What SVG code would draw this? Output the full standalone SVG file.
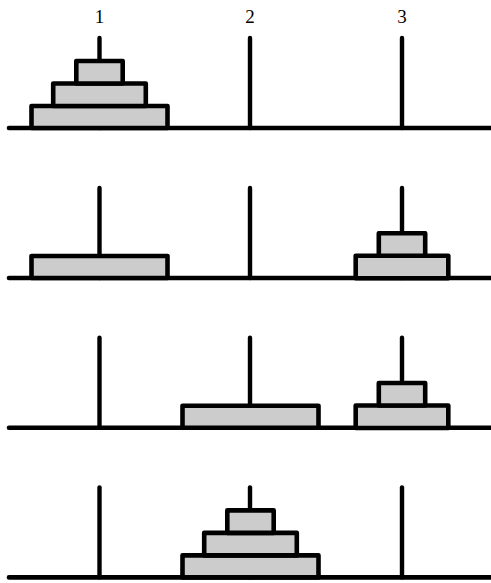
<svg xmlns="http://www.w3.org/2000/svg" width="491" height="583" viewBox="0 0 491 583">
<defs>
<style>
.base{stroke:#000;stroke-width:4.6;stroke-linecap:round;fill:none}
.peg{stroke:#000;stroke-width:4.4;stroke-linecap:round;fill:none}
.disk{fill:#cccccc;stroke:#000;stroke-width:4.6;stroke-linejoin:round}
.lbl{font-family:"Liberation Serif","Times New Roman",serif;font-size:19px;fill:#000;text-anchor:middle}
</style>
<rect id="big" class="disk" x="-68" y="-22" width="136" height="22"/>
<rect id="mid" class="disk" x="-46.3" y="-44.5" width="92.6" height="22.5"/>
<rect id="small" class="disk" x="-23.2" y="-67" width="46.4" height="22.5"/>
<g id="pegs">
<line class="peg" x1="99.5" y1="-90" x2="99.5" y2="0"/>
<line class="peg" x1="250" y1="-90" x2="250" y2="0"/>
<line class="peg" x1="402" y1="-90" x2="402" y2="0"/>
<line class="base" x1="9" y1="0" x2="500" y2="0"/>
</g>
</defs>
<rect width="491" height="583" fill="#fff"/>
<g id="labels">
<text class="lbl" x="99.5" y="22.5">1</text>
<text class="lbl" x="250" y="22.5">2</text>
<text class="lbl" x="402" y="22.5">3</text>
</g>
<g id="state1" transform="translate(0,128)">
<use href="#pegs"/>
<g transform="translate(99.5,0)"><use href="#big"/><use href="#mid"/><use href="#small"/></g>
</g>
<g id="state2" transform="translate(0,278)">
<use href="#pegs"/>
<g transform="translate(99.5,0)"><use href="#big"/></g>
<g transform="translate(402,0)"><use href="#mid" transform="translate(0,22.3)"/><use href="#small" transform="translate(0,22.3)"/></g>
</g>
<g id="state3" transform="translate(0,427.7)">
<use href="#pegs"/>
<g transform="translate(250.5,0)"><use href="#big"/></g>
<g transform="translate(402,0)"><use href="#mid" transform="translate(0,22.3)"/><use href="#small" transform="translate(0,22.3)"/></g>
</g>
<g id="state4" transform="translate(0,577.4)">
<use href="#pegs"/>
<g transform="translate(250.5,0)"><use href="#big"/><use href="#mid"/><use href="#small"/></g>
</g>
</svg>
